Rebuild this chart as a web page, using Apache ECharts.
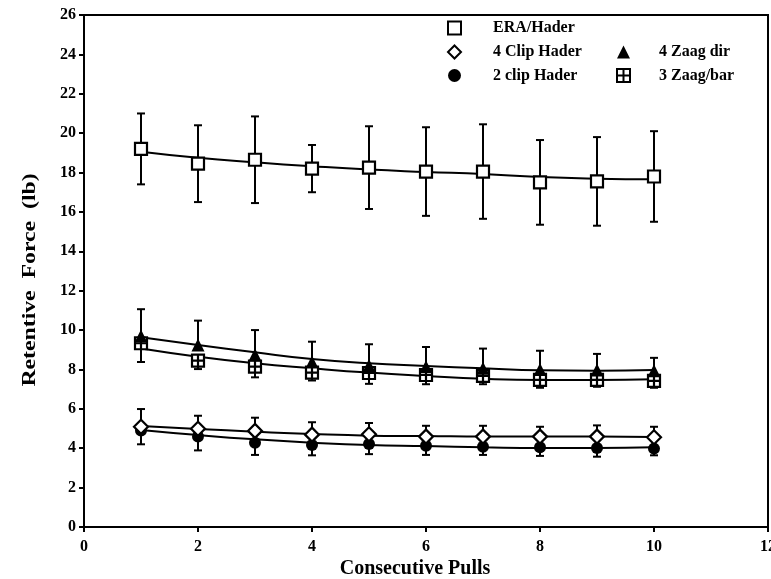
<!DOCTYPE html>
<html>
<head>
<meta charset="utf-8">
<script src="https://cdn.jsdelivr.net/npm/echarts@6/dist/echarts.min.js"></script>
<style>html,body{margin:0;padding:0;background:#fff}#c{width:771px;height:579px}</style>
</head>
<body>
<div id="c"></div>
<script>
// ---- data ----
var pulls = [1, 2, 3, 4, 5, 6, 7, 8, 9, 10];
var xTicks = [0, 2, 4, 6, 8, 10, 12];
var yTicks = [0, 2, 4, 6, 8, 10, 12, 14, 16, 18, 20, 22, 24, 26];

var eraMean  = [19.2, 18.45, 18.65, 18.2, 18.25, 18.05, 18.05, 17.5, 17.55, 17.8];
var eraErr   = [1.8, 1.95, 2.2, 1.2, 2.1, 2.25, 2.4, 2.15, 2.25, 2.3];
var eraFit   = [19.06, 18.75, 18.52, 18.32, 18.15, 18.03, 17.92, 17.77, 17.69, 17.66];

var zaagDirMean = [9.7, 9.24, 8.75, 8.38, 8.2, 8.14, 8.06, 8.0, 7.97, 7.94];
var zaagDirErr  = [1.36, 1.24, 1.25, 1.03, 1.08, 1.0, 1.0, 0.95, 0.82, 0.65];
var zaagDirFit  = [9.63, 9.24, 8.87, 8.53, 8.31, 8.18, 8.06, 7.96, 7.94, 7.97];

var zaagBarMean = [9.33, 8.45, 8.14, 7.84, 7.82, 7.72, 7.67, 7.47, 7.47, 7.42];
var zaagBarErr  = [0.95, 0.43, 0.54, 0.4, 0.55, 0.47, 0.42, 0.4, 0.35, 0.35];
var zaagBarFit  = [9.07, 8.65, 8.31, 8.06, 7.84, 7.67, 7.53, 7.47, 7.47, 7.5];

var clip4Mean = [5.09, 4.99, 4.88, 4.69, 4.71, 4.59, 4.59, 4.59, 4.59, 4.56];
var clip4Err  = [0.9, 0.66, 0.67, 0.63, 0.57, 0.55, 0.55, 0.5, 0.57, 0.53];
var clip4Fit  = [5.13, 4.98, 4.84, 4.72, 4.64, 4.62, 4.59, 4.59, 4.59, 4.57];

var clip2Mean = [4.9, 4.59, 4.28, 4.16, 4.22, 4.13, 4.08, 4.05, 4.01, 3.98];
var clip2Err  = [0.7, 0.7, 0.62, 0.52, 0.52, 0.47, 0.42, 0.44, 0.44, 0.34];
var clip2Fit  = [4.93, 4.67, 4.45, 4.28, 4.16, 4.11, 4.05, 4.01, 4.01, 4.05];

var seriesNames = ['ERA/Hader', '4 Clip Hader', '2 clip Hader', '4 Zaag dir', '3 Zaag/bar'];
var xTitle = 'Consecutive Pulls';
var yTitle = 'Retentive  Force  (lb)';

// ---- helpers ----
var FONT = '"Liberation Serif", "DejaVu Serif", serif';
function pts(vals) { return pulls.map(function (x, i) { return [x, vals[i]]; }); }
// mode: 'both', 'up', 'down'
function errData(mean, err, mode) {
  return pulls.map(function (x, i) {
    var lo = mode === 'up' ? mean[i] : mean[i] - err[i];
    var hi = mode === 'down' ? mean[i] : mean[i] + err[i];
    return [x, lo, hi, mode === 'up' ? 0 : 1, mode === 'down' ? 0 : 1];
  });
}
function errRender(params, api) {
  var x = api.value(0), lo = api.value(1), hi = api.value(2);
  var capLo = api.value(3), capHi = api.value(4);
  var a = api.coord([x, lo]), b = api.coord([x, hi]);
  var w = 4;
  var st = { stroke: '#000', lineWidth: 2 };
  var ch = [{ type: 'line', shape: { x1: a[0], y1: a[1], x2: b[0], y2: b[1] }, style: st }];
  if (capLo) ch.push({ type: 'line', shape: { x1: a[0] - w, y1: a[1], x2: a[0] + w, y2: a[1] }, style: st });
  if (capHi) ch.push({ type: 'line', shape: { x1: b[0] - w, y1: b[1], x2: b[0] + w, y2: b[1] }, style: st });
  return { type: 'group', children: ch };
}
function errSeries(data) {
  return { type: 'custom', renderItem: errRender, data: data, encode: { x: 0, y: [1, 2] }, z: 2, silent: true, legendHoverLink: false };
}
function fitSeries(name, vals) {
  return { name: name, type: 'line', data: pts(vals), smooth: true, showSymbol: false, symbol: 'none',
           lineStyle: { color: '#000', width: 2 }, z: 3, silent: true };
}
function markSeries(name, vals, symbol, size, fill) {
  return { name: name, type: 'scatter', data: pts(vals), symbol: symbol, symbolSize: size,
           itemStyle: { color: fill, borderColor: '#000', borderWidth: fill === '#fff' ? 2.2 : 0, opacity: 1 }, z: 4 };
}
var boxPlus = 'path://M0,0H12V12H0Z M6,0V12 M0,6H12';

var legendText = { fontFamily: FONT, fontWeight: 'bold', fontSize: 16, color: '#000', lineHeight: 16 };
function legendCfg(data, left, top, pad) {
  return { data: data, orient: 'vertical', left: left, top: top, padding: 0, itemGap: 7.5,
           itemWidth: 13, itemHeight: 13, selectedMode: false,
           textStyle: Object.assign({ padding: [0, 0, 0, pad] }, legendText) };
}

var chart = echarts.init(document.getElementById('c'), null, { renderer: 'canvas' });
chart.setOption({
  animation: false,
  backgroundColor: '#fff',
  grid: { left: 84, right: 3, top: 15, bottom: 52, show: true, borderColor: '#000', borderWidth: 2,
          backgroundColor: 'transparent', outerBoundsMode: 'none', containLabel: false },
  xAxis: {
    type: 'value', min: xTicks[0], max: xTicks[xTicks.length - 1], interval: 2,
    axisLine: { show: true, lineStyle: { color: '#000', width: 2 } },
    axisTick: { show: true, inside: false, length: 5, lineStyle: { color: '#000', width: 2 } },
    axisLabel: { fontFamily: FONT, fontWeight: 'bold', fontSize: 16, color: '#000', margin: 12 },
    splitLine: { show: false }
  },
  yAxis: {
    type: 'value', min: yTicks[0], max: yTicks[yTicks.length - 1], interval: 2,
    axisLine: { show: true, lineStyle: { color: '#000', width: 2 } },
    axisTick: { show: true, inside: false, length: 5, lineStyle: { color: '#000', width: 2 } },
    axisLabel: { fontFamily: FONT, fontWeight: 'bold', fontSize: 16, color: '#000', margin: 8 },
    splitLine: { show: false }
  },
  legend: [
    legendCfg([seriesNames[0]], 447, 20, 27),
    legendCfg([seriesNames[1], seriesNames[2]], 447, 44, 27),
    legendCfg([seriesNames[3], seriesNames[4]], 616, 44, 24)
  ],
  graphic: [
    { type: 'text', x: 415, y: 569, style: { text: xTitle, fontFamily: FONT, fontWeight: 'bold', fontSize: 20, fill: '#000', align: 'center', verticalAlign: 'middle' } },
    { type: 'text', x: 30, y: 280, rotation: Math.PI / 2, scaleX: 1.25,
      style: { text: yTitle, fontFamily: FONT, fontWeight: 'bold', fontSize: 19, fill: '#000', align: 'center', verticalAlign: 'middle' } }
  ],
  series: [
    errSeries(errData(eraMean, eraErr, 'both')),
    errSeries(errData(zaagDirMean, zaagDirErr, 'up')),
    errSeries(errData(zaagBarMean, zaagBarErr, 'down')),
    errSeries(errData(clip4Mean, clip4Err, 'up')),
    errSeries(errData(clip2Mean, clip2Err, 'down')),
    fitSeries('fitERA', eraFit),
    fitSeries('fitZD', zaagDirFit),
    fitSeries('fitZB', zaagBarFit),
    fitSeries('fitC4', clip4Fit),
    fitSeries('fitC2', clip2Fit),
    markSeries(seriesNames[0], eraMean, 'rect', 12, '#fff'),
    markSeries(seriesNames[2], clip2Mean, 'circle', 12, '#000'),
    markSeries(seriesNames[1], clip4Mean, 'diamond', 14, '#fff'),
    markSeries(seriesNames[4], zaagBarMean, boxPlus, 12, '#fff'),
    markSeries(seriesNames[3], zaagDirMean, 'triangle', 13, '#000')
  ]
});
</script>
</body>
</html>
